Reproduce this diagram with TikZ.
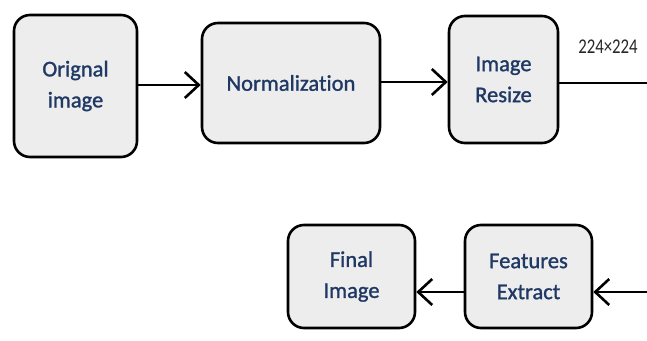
\documentclass[tikz,border=0pt]{standalone}
\usepackage{fontspec}
\setmainfont[Ligatures=NoCommon]{Carlito}
\newfontfamily\boxfont[Ligatures=NoCommon,FakeBold=1.2]{Carlito}
\usetikzlibrary{arrows.meta}
\definecolor{boxfill}{HTML}{EDEDED}
\definecolor{txt}{HTML}{1F3864}
\tikzset{
  stage/.style={draw=black, line width=2.6pt, rounded corners=16pt, fill=boxfill,
    text=txt, align=center, font=\boxfont\fontsize{22.5}{31}\selectfont, inner sep=0pt},
  flow/.style={line width=2.6pt, -{Straight Barb[length=14pt,width=26pt,line width=2.6pt]}}
}
\begin{document}
\begin{tikzpicture}[x=1pt,y=-1pt]
\useasboundingbox (0,0) rectangle (647,340);
\node[stage, minimum width=123pt, minimum height=142pt] (orig) at (75.5,86) {Orignal\\image};
\node[stage, minimum width=178pt, minimum height=120pt] (norm) at (291,83) {Normalization};
\node[stage, minimum width=109pt, minimum height=127pt] (resize) at (503.5,79.5) {Image\\Resize};
\node[stage, minimum width=127pt, minimum height=103pt] (final) at (351.5,276.5) {Final\\Image};
\node[stage, minimum width=127pt, minimum height=103pt] (feat) at (528.5,276.5) {Features\\Extract};
\coordinate (rout) at (648,83);
\coordinate (rin) at (648,292);
\node[font=\fontsize{21}{21}\selectfont, text=black!85, inner sep=0pt] (lbl) at (608,47) {\scalebox{0.8}[1]{224×224}};
\draw[flow] (orig.east |- 0,85) -- (norm.west |- 0,85);
\draw[flow] (norm.east |- 0,82) -- (resize.west |- 0,82);
\draw[line width=2.6pt] (resize.east |- rout) -- (rout);
\draw[flow] (rin) -- (feat.east |- rin);
\draw[flow] (feat.west |- 0,292) -- (final.east |- 0,292);
\end{tikzpicture}
\end{document}
